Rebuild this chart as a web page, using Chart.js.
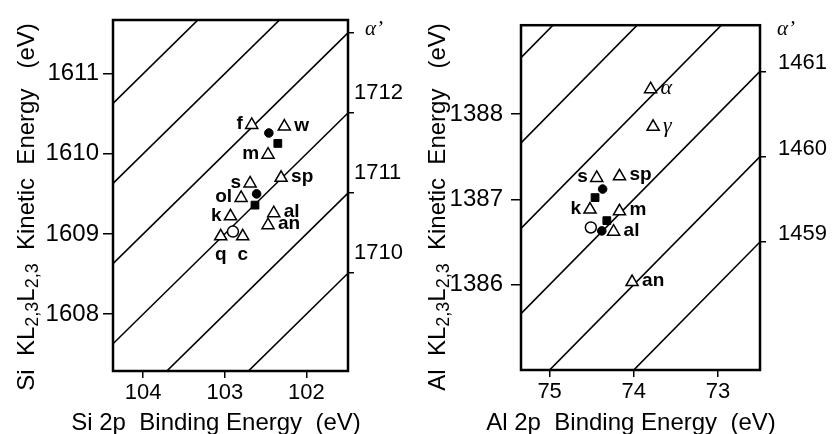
<!DOCTYPE html>
<html>
<head>
<meta charset="utf-8">
<script src="https://cdn.jsdelivr.net/npm/chart.js@4.4.1/dist/chart.umd.min.js"></script>
<style>
  body { margin: 0; background: #fff; }
  #wrap { position: relative; width: 835px; height: 434px; }
  canvas { position: absolute; top: 0; }
  #siChart { left: 0; }
  #alChart { left: 420px; }
</style>
</head>
<body>
<div id="wrap">
  <canvas id="siChart" width="420" height="434"></canvas>
  <canvas id="alChart" width="415" height="434"></canvas>
</div>
<script>
// ---- Si panel data ----
const siTriLabels = ['f', 'w', 'm', 'sp', 's', 'ol', 'k', 'al', 'an', 'q', 'c'];
const siTriBE = [102.67, 102.27, 102.47, 102.31, 102.69, 102.80, 102.93, 102.40, 102.47, 103.05, 102.78];
const siTriKE = [1610.36, 1610.34, 1609.99, 1609.70, 1609.63, 1609.45, 1609.22, 1609.26, 1609.11, 1608.97, 1608.97];
const siTriSide = ['left', 'right', 'left', 'right', 'left', 'left', 'left', 'right', 'right', 'below', 'below'];
const siDotBE = [102.46, 102.61];
const siDotKE = [1610.26, 1609.50];
const siSqBE = [102.35, 102.63];
const siSqKE = [1610.13, 1609.36];
const siRingBE = [102.90];
const siRingKE = [1609.03];
const siBETicks = [104, 103, 102];
const siKETicks = [1608, 1609, 1610, 1611];
const siAlphaTicks = [1710, 1711, 1712, 1713];
const siAlphaLabels = ['1710', '1711', '1712', ''];
const siAlphaLines = [1710, 1711, 1712, 1713, 1714, 1715];
const siBERange = [101.49, 104.37];
const siKERange = [1607.29, 1611.67];

// ---- Al panel data ----
const alTriLabels = ['α', 'γ', 's', 'sp', 'k', 'm', 'al', 'an'];
const alTriBE = [73.80, 73.77, 74.44, 74.17, 74.52, 74.17, 74.24, 74.02];
const alTriKE = [1388.29, 1387.85, 1387.25, 1387.27, 1386.88, 1386.86, 1386.62, 1386.03];
const alTriSide = ['right', 'right', 'left', 'right', 'left', 'right', 'right', 'right'];
const alDotBE = [74.37, 74.38];
const alDotKE = [1387.12, 1386.63];
const alSqBE = [74.46, 74.32];
const alSqKE = [1387.02, 1386.75];
const alRingBE = [74.51];
const alRingKE = [1386.67];
const alBETicks = [75, 74, 73];
const alKETicks = [1386, 1387, 1388];
const alAlphaTicks = [1459, 1460, 1461];
const alAlphaLabels = ['1459', '1460', '1461'];
const alAlphaLines = [1459, 1460, 1461, 1462, 1463, 1464];
const alBERange = [72.50, 75.34];
const alKERange = [1385.0, 1389.04];

const SANS = '"Liberation Sans", Arial, sans-serif';
const SERIF = '"Liberation Serif", "Times New Roman", serif';

// text with subscripts, centred on (cx, cy), optionally rotated
function drawRich(ctx, segs, size, cx, cy, angle) {
  const sub = size * 0.75;
  let total = 0;
  segs.forEach(([t, s]) => {
    ctx.font = `${s ? sub : size}px ${SANS}`;
    total += ctx.measureText(t).width;
  });
  ctx.save();
  ctx.translate(cx, cy);
  ctx.rotate(angle);
  ctx.textAlign = 'left';
  ctx.textBaseline = 'alphabetic';
  let x = -total / 2;
  segs.forEach(([t, s]) => {
    ctx.font = `${s ? sub : size}px ${SANS}`;
    ctx.fillText(t, x, size * 0.36 + (s ? size * 0.18 : 0));
    x += ctx.measureText(t).width;
  });
  ctx.restore();
}

const decor = {
  id: 'decor',
  afterDraw(chart, args, o) {
    const { ctx, chartArea: a } = chart;
    const p = o.panel;
    ctx.save();
    ctx.strokeStyle = '#000';
    ctx.lineWidth = 2.5;
    ctx.strokeRect(a.left, a.top, a.right - a.left, a.bottom - a.top);

    // marker labels
    ctx.fillStyle = '#000';
    ctx.textBaseline = 'middle';
    chart.getDatasetMeta(0).data.forEach((pt, i) => {
      const t = p.triLabels[i];
      const side = p.triSide[i];
      ctx.font = /[α-ω]/.test(t) ? `italic 22px ${SERIF}` : `bold 19px ${SANS}`;
      if (side === 'left') { ctx.textAlign = 'right'; ctx.fillText(t, pt.x - 9, pt.y - 1); }
      else if (side === 'right') { ctx.textAlign = 'left'; ctx.fillText(t, pt.x + 10, pt.y - 1); }
      else { ctx.textAlign = 'center'; ctx.fillText(t, pt.x, pt.y + 18); }
    });

    // alpha' label on right axis
    ctx.font = `italic 21px ${SERIF}`;
    ctx.textAlign = 'left';
    ctx.fillText('α’', a.right + 17, 29);

    drawRich(ctx, p.yTitle, 24, p.yTitlePos[0], p.yTitlePos[1], -Math.PI / 2);
    drawRich(ctx, [[p.xTitle, 0]], 24, p.xTitlePos[0], p.xTitlePos[1], 0);
    ctx.restore();
  }
};

function buildPanel(canvasId, p) {
  const el = document.getElementById(canvasId);
  const W = el.width, H = el.height;
  const pts = (xs, ys) => xs.map((x, i) => ({ x, y: ys[i] }));
  const lineSets = p.alphaLines.map(a => ({
    data: [{ x: p.beRange[0], y: a - p.beRange[0] }, { x: p.beRange[1], y: a - p.beRange[1] }],
    showLine: true, pointRadius: 0, borderColor: '#000', borderWidth: 1.6, clip: 0
  }));
  const tickGrid = len => ({ display: true, drawOnChartArea: false, drawTicks: true, tickLength: len, color: '#000', lineWidth: 1.5 });

  new Chart(el, {
    type: 'scatter',
    data: {
      datasets: [
        { data: pts(p.triBE, p.triKE), pointStyle: 'triangle', pointRadius: 7, backgroundColor: '#fff', borderColor: '#000', borderWidth: 1.5 },
        { data: pts(p.dotBE, p.dotKE), pointStyle: 'circle', pointRadius: 4.3, backgroundColor: '#000', borderColor: '#000', borderWidth: 1 },
        { data: pts(p.sqBE, p.sqKE), pointStyle: 'rect', pointRadius: 5.5, backgroundColor: '#000', borderColor: '#000', borderWidth: 1 },
        { data: pts(p.ringBE, p.ringKE), pointStyle: 'circle', pointRadius: 5.5, backgroundColor: '#fff', borderColor: '#000', borderWidth: 1.5 },
        ...lineSets
      ]
    },
    options: {
      responsive: false,
      animation: false,
      devicePixelRatio: 1,
      events: [],
      layout: { padding: { top: p.area.top, left: 0, right: 0, bottom: 0 } },
      plugins: { legend: { display: false }, tooltip: { enabled: false }, decor: { panel: p } },
      scales: {
        x: {
          type: 'linear', reverse: true, min: p.beRange[0], max: p.beRange[1],
          afterBuildTicks: s => { s.ticks = p.beTicks.map(v => ({ value: v })); },
          afterFit: s => { s.height = H - p.area.bottom; },
          grid: tickGrid(7), border: { display: false },
          ticks: { font: { family: SANS, size: 22 }, color: '#000', padding: 2, maxRotation: 0, autoSkip: false, callback: v => String(v) }
        },
        y: {
          type: 'linear', position: 'left', min: p.keRange[0], max: p.keRange[1],
          afterBuildTicks: s => { s.ticks = p.keTicks.map(v => ({ value: v })); },
          afterFit: s => { s.width = p.area.left; },
          grid: tickGrid(10), border: { display: false },
          ticks: { font: { family: SANS, size: 24 }, color: '#000', padding: p.yPad, autoSkip: false, callback: v => String(v) }
        },
        y2: {
          type: 'linear', position: 'right', min: p.keRange[0], max: p.keRange[1],
          afterBuildTicks: s => { s.ticks = p.alphaTicks.map(a => ({ value: a - p.beRange[0] })); },
          afterFit: s => { s.width = W - p.area.right; },
          grid: tickGrid(6), border: { display: false },
          ticks: { font: { family: SANS, size: 22 }, color: '#000', padding: p.y2Pad, labelOffset: p.y2Offset, autoSkip: false, callback: (v, i) => p.alphaLabels[i] }
        }
      }
    },
    plugins: [decor]
  });
}

buildPanel('siChart', {
  triLabels: siTriLabels, triSide: siTriSide, triBE: siTriBE, triKE: siTriKE,
  dotBE: siDotBE, dotKE: siDotKE, sqBE: siSqBE, sqKE: siSqKE, ringBE: siRingBE, ringKE: siRingKE,
  beTicks: siBETicks, keTicks: siKETicks, alphaTicks: siAlphaTicks, alphaLabels: siAlphaLabels,
  alphaLines: siAlphaLines, beRange: siBERange, keRange: siKERange,
  area: { left: 113, right: 348, top: 20, bottom: 371 },
  yPad: 4, y2Pad: 0, y2Offset: -20,
  yTitle: [['Si  KL', 0], ['2,3', 1], ['L', 0], ['2,3', 1], ['  Kinetic  Energy   (eV)', 0]],
  yTitlePos: [25, 207],
  xTitle: 'Si 2p  Binding Energy  (eV)', xTitlePos: [216, 421]
});

buildPanel('alChart', {
  triLabels: alTriLabels, triSide: alTriSide, triBE: alTriBE, triKE: alTriKE,
  dotBE: alDotBE, dotKE: alDotKE, sqBE: alSqBE, sqKE: alSqKE, ringBE: alRingBE, ringKE: alRingKE,
  beTicks: alBETicks, keTicks: alKETicks, alphaTicks: alAlphaTicks, alphaLabels: alAlphaLabels,
  alphaLines: alAlphaLines, beRange: alBERange, keRange: alKERange,
  area: { left: 101, right: 340, top: 19, bottom: 370 },
  yPad: 8, y2Pad: 12, y2Offset: -8,
  yTitle: [['Al  KL', 0], ['2,3', 1], ['L', 0], ['2,3', 1], ['  Kinetic  Energy   (eV)', 0]],
  yTitlePos: [16, 207],
  xTitle: 'Al 2p  Binding Energy  (eV)', xTitlePos: [211, 421]
});
</script>
</body>
</html>
